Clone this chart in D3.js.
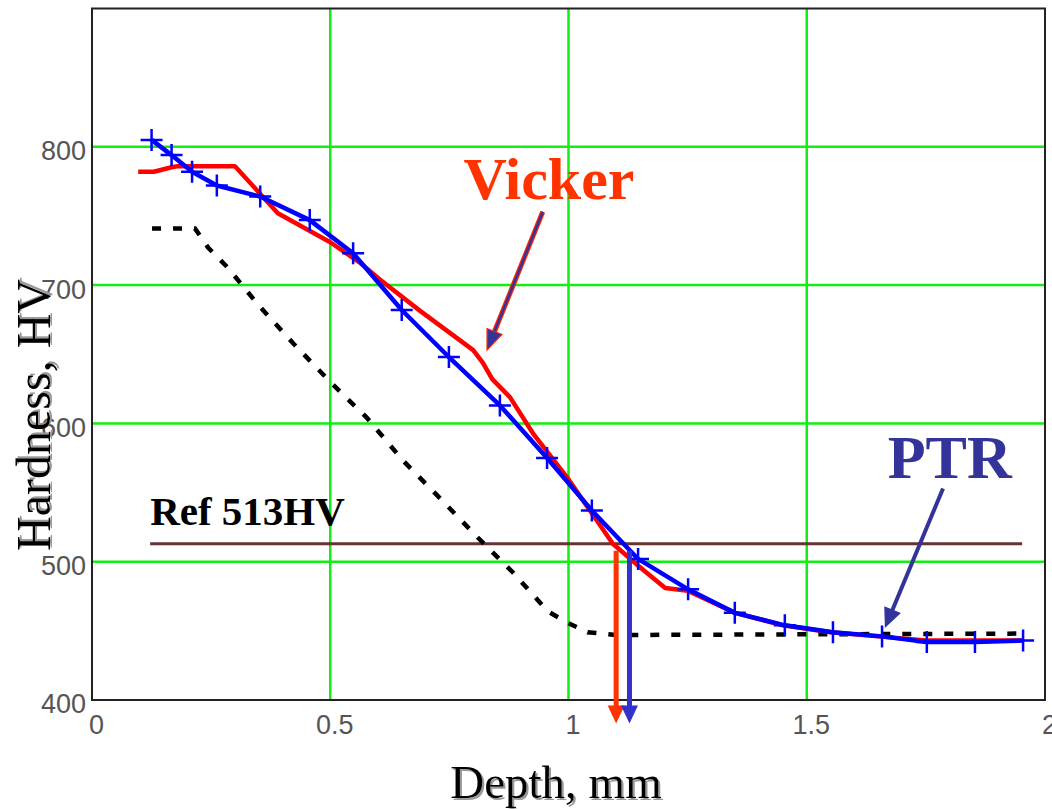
<!DOCTYPE html>
<html>
<head>
<meta charset="utf-8">
<script src="https://cdn.jsdelivr.net/npm/d3@7"></script>
<style>
  body { margin: 0; background: #fff; }
  .tick text { font-family: "Liberation Sans", Arial, sans-serif; fill: #555; }
</style>
</head>
<body>
<div id="chart"></div>
<script>
var width = 1052;
var height = 809;

// PTR measurement (blue, with + markers)
var ptrDepth = [0.125, 0.167, 0.21, 0.262, 0.353, 0.457, 0.548, 0.65, 0.749, 0.856, 0.955, 1.049, 1.146, 1.251, 1.349, 1.454, 1.555, 1.658, 1.752, 1.853, 1.954];
var ptrHV    = [805, 794, 782, 772, 764, 747, 723, 682, 648, 613, 575, 537, 502, 480, 463, 454, 449, 446, 442, 442, 443];

// Vicker traverse (red)
var vickDepth = [0.097, 0.13, 0.165, 0.18, 0.30, 0.39, 0.50, 0.563, 0.604, 0.69, 0.80, 0.82, 0.84, 0.877, 0.925, 0.997, 1.093, 1.157, 1.203, 1.25, 1.35, 1.45, 1.55, 1.65, 1.75, 1.85, 1.95];
var vickHV    = [782, 782, 785, 786, 786, 752, 731, 716, 704, 681, 653, 644, 632, 619, 593, 561, 513, 494, 481, 479, 463, 454, 449, 446, 443, 443, 443];

// dashed curve (black)
var dashDepth = [0.126, 0.216, 0.244, 0.284, 0.315, 0.348, 0.422, 0.5, 0.577, 0.653, 0.73, 0.808, 0.884, 0.923, 0.957, 0.997, 1.04, 1.1, 1.94];
var dashHV    = [741, 741, 727, 713, 700, 686, 658, 630, 604, 573, 546, 518, 492, 477, 464, 456, 449, 447, 448];

var refHV = 513;
var refRange = [0.122, 1.952];
var caseDepth = { vicker: 1.10, ptr: 1.128 };

var depthTicks = [0, 0.5, 1, 1.5, 2];
var hvTicks = [400, 500, 600, 700, 800];

var x = d3.scaleLinear().domain([0, 2]).range([92, 1045]);
var y = d3.scaleLinear().domain([400, 900]).range([700, 8.5]);

var svg = d3.select("#chart").append("svg")
  .attr("width", width)
  .attr("height", height);

var defs = svg.append("defs");
var shadow = defs.append("filter").attr("id", "shadow")
  .attr("x", "-10%").attr("y", "-10%").attr("width", "130%").attr("height", "130%");
shadow.append("feOffset").attr("in", "SourceAlpha").attr("dx", 2).attr("dy", 2).attr("result", "off");
shadow.append("feFlood").attr("flood-color", "#999").attr("result", "col");
shadow.append("feComposite").attr("in", "col").attr("in2", "off").attr("operator", "in").attr("result", "sh");
var merge = shadow.append("feMerge");
merge.append("feMergeNode").attr("in", "sh");
merge.append("feMergeNode").attr("in", "SourceGraphic");

// grid
svg.append("g").selectAll("line")
  .data(depthTicks.slice(1, -1)).enter().append("line")
  .attr("x1", d => x(d)).attr("x2", d => x(d))
  .attr("y1", y(900)).attr("y2", y(400))
  .attr("stroke", "#11ee11").attr("stroke-width", 2.5);
svg.append("g").selectAll("line")
  .data(hvTicks.slice(1)).enter().append("line")
  .attr("x1", x(0)).attr("x2", x(2))
  .attr("y1", d => y(d)).attr("y2", d => y(d))
  .attr("stroke", "#11ee11").attr("stroke-width", 2.5);

// frame
svg.append("rect")
  .attr("x", x(0)).attr("y", y(900))
  .attr("width", x(2) - x(0)).attr("height", y(400) - y(900))
  .attr("fill", "none").attr("stroke", "#222").attr("stroke-width", 2);

// axes
var xAxis = svg.append("g")
  .attr("transform", "translate(4," + y(400) + ")")
  .call(d3.axisBottom(x).tickValues(depthTicks).tickFormat(d3.format("")).tickSize(0).tickPadding(15));
xAxis.select(".domain").remove();
xAxis.selectAll("text").style("font-size", "27px");

var yAxis = svg.append("g")
  .attr("transform", "translate(" + x(0) + ",0)")
  .call(d3.axisLeft(y).tickValues(hvTicks).tickSize(0).tickPadding(6));
yAxis.select(".domain").remove();
yAxis.selectAll("text").style("font-size", "27px").attr("dy", "0.48em");

// reference line
svg.append("line")
  .attr("x1", x(refRange[0])).attr("x2", x(refRange[1]))
  .attr("y1", y(refHV)).attr("y2", y(refHV))
  .attr("stroke", "#663333").attr("stroke-width", 3);

svg.append("text")
  .attr("x", x(refRange[0])).attr("y", y(526.6))
  .attr("font-family", "Liberation Serif, Times New Roman, serif")
  .attr("font-weight", "bold").attr("font-size", 41)
  .text("Ref 513HV");

var line = d3.line().x(d => x(d[0])).y(d => y(d[1]));

// dashed curve
svg.append("path")
  .datum(d3.zip(dashDepth, dashHV))
  .attr("d", line)
  .attr("fill", "none").attr("stroke", "#000")
  .attr("stroke-width", 4.5).attr("stroke-dasharray", "9,12");

// Vicker
svg.append("path")
  .datum(d3.zip(vickDepth, vickHV))
  .attr("d", line)
  .attr("fill", "none").attr("stroke", "#ff0000").attr("stroke-width", 4.5)
  .attr("stroke-linejoin", "round");

// PTR
var ptrData = d3.zip(ptrDepth, ptrHV);
svg.append("path")
  .datum(ptrData)
  .attr("d", line)
  .attr("fill", "none").attr("stroke", "#0000ff").attr("stroke-width", 4.5)
  .attr("stroke-linejoin", "round");

svg.append("g").selectAll("path")
  .data(ptrData).enter().append("path")
  .attr("transform", d => "translate(" + x(d[0]) + "," + y(d[1]) + ")")
  .attr("d", "M-11,0H11M0,-11V11")
  .attr("stroke", "#0000ff").attr("stroke-width", 2.5);

// arrows
function arrow(x1, y1, x2, y2, color, w, headLen, headHalf, outline) {
  var dx = x2 - x1, dy = y2 - y1, len = Math.sqrt(dx * dx + dy * dy);
  var ux = dx / len, uy = dy / len;
  var bx = x2 - ux * headLen, by = y2 - uy * headLen;
  var g = svg.append("g");
  if (outline) {
    g.append("line").attr("x1", x1).attr("y1", y1).attr("x2", bx).attr("y2", by)
      .attr("stroke", outline).attr("stroke-width", w + 2.5);
  }
  g.append("line").attr("x1", x1).attr("y1", y1).attr("x2", bx + ux * 2).attr("y2", by + uy * 2)
    .attr("stroke", color).attr("stroke-width", w);
  g.append("path")
    .attr("d", "M" + x2 + "," + y2 +
      "L" + (bx - uy * headHalf) + "," + (by + ux * headHalf) +
      "L" + (bx + uy * headHalf) + "," + (by - ux * headHalf) + "Z")
    .attr("fill", color)
    .attr("stroke", outline || "none").attr("stroke-width", outline ? 1.2 : 0);
}

arrow(x(caseDepth.vicker), y(508), x(caseDepth.vicker), y(383), "#ff3300", 5, 18, 8.5);
arrow(x(caseDepth.ptr), y(508), x(caseDepth.ptr), y(383), "#3333cc", 5, 18, 8.5);

arrow(x(0.946), y(753), x(0.829), y(653), "#333399", 2.5, 20, 8, "#ff2200");
arrow(x(1.786), y(553), x(1.664), y(452), "#333399", 4, 20, 9);

// labels
svg.append("text")
  .attr("x", x(0.959)).attr("y", y(762))
  .attr("text-anchor", "middle")
  .attr("font-family", "Liberation Serif, Times New Roman, serif")
  .attr("font-weight", "bold").attr("font-size", 60)
  .attr("fill", "#ff3300")
  .text("Vicker");

svg.append("text")
  .attr("x", x(1.80)).attr("y", y(560.6))
  .attr("text-anchor", "middle")
  .attr("font-family", "Liberation Serif, Times New Roman, serif")
  .attr("font-weight", "bold").attr("font-size", 62)
  .attr("fill", "#333399")
  .text("PTR");

// axis titles
svg.append("text")
  .attr("x", 556).attr("y", 798)
  .attr("text-anchor", "middle")
  .attr("font-family", "Liberation Serif, Times New Roman, serif")
  .attr("font-size", 47)
  .attr("filter", "url(#shadow)")
  .text("Depth, mm");

svg.append("text")
  .attr("transform", "translate(50,415) rotate(-90)")
  .attr("text-anchor", "middle")
  .attr("font-family", "Liberation Serif, Times New Roman, serif")
  .attr("font-size", 48)
  .attr("filter", "url(#shadow)")
  .text("Hardness, HV");
</script>
</body>
</html>
